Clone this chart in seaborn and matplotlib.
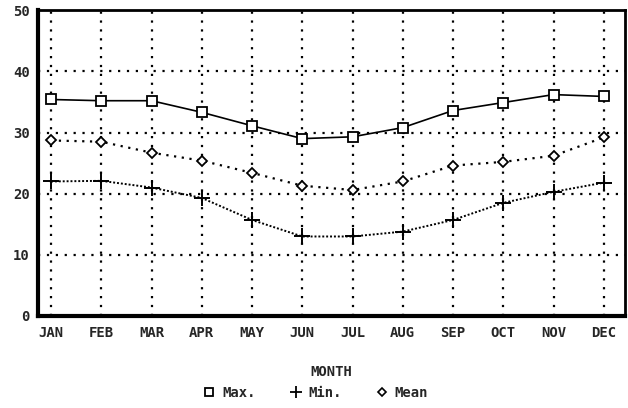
import seaborn as sns
import numpy as np
import matplotlib.pyplot as plt
from matplotlib.lines import Line2D

months = ["JAN", "FEB", "MAR", "APR", "MAY", "JUN", "JUL", "AUG", "SEP", "OCT", "NOV", "DEC"]
max_temp = [35.4, 35.2, 35.2, 33.3, 31.1, 29.0, 29.3, 30.8, 33.6, 34.9, 36.2, 35.9]
min_temp = [22.0, 22.1, 21.0, 19.3, 15.7, 13.0, 13.0, 13.8, 15.7, 18.5, 20.3, 21.8]
mean_temp = [28.7, 28.5, 26.7, 25.4, 23.4, 21.3, 20.6, 22.0, 24.6, 25.2, 26.2, 29.2]
y_ticks = [0, 10, 20, 30, 40, 50]

sns.set_style("white")
plt.rcParams['font.family'] = ['DejaVu Sans Mono']

fig = plt.figure(figsize=(6.28, 4.08), dpi=100)
ax = fig.add_axes([0.0605, 0.2255, 0.9345, 0.7495])

x = np.arange(len(months))
sns.lineplot(x=x, y=max_temp, ax=ax, color="black", lw=1.2, marker="s", markersize=7,
             markerfacecolor="white", markeredgecolor="black", markeredgewidth=1.3)
sns.lineplot(x=x, y=min_temp, ax=ax, color="black", lw=1.4, linestyle=(0, (1, 1)), marker="+",
             markersize=11, markeredgecolor="black", markeredgewidth=1.4)
sns.lineplot(x=x, y=mean_temp, ax=ax, color="black", lw=1.6, linestyle=(0, (1, 2.5)), marker="D",
             markersize=5.5, markerfacecolor="white", markeredgecolor="black", markeredgewidth=1.3)

ax.set_xlim(-0.26, 11.42)
ax.set_ylim(0, 50)
ax.set_xticks(x)
ax.set_xticklabels(months, fontsize=10, fontweight="bold")
ax.set_yticks(y_ticks)
ax.set_yticklabels([str(v) for v in y_ticks], fontsize=10, fontweight="bold")
ax.tick_params(axis="both", direction="out", length=5, width=1.2, color="black", pad=2)
ax.tick_params(axis="y", length=4)

for v in y_ticks[1:-1]:
    ax.axhline(v, color="black", lw=1.6, linestyle=(0, (1, 3)), zorder=0)
for xi in x:
    ax.axvline(xi, color="black", lw=1.6, linestyle=(0, (1, 3)), zorder=0)

for side in ["left", "bottom", "top", "right"]:
    ax.spines[side].set_visible(True)
    ax.spines[side].set_color("black")
ax.spines["left"].set_linewidth(3)
ax.spines["bottom"].set_linewidth(3)
ax.spines["top"].set_linewidth(2)
ax.spines["right"].set_linewidth(2)

ax.set_xlabel("MONTH", fontsize=10, fontweight="bold", labelpad=18)
ax.set_ylabel("")

handles = [
    Line2D([], [], linestyle="none", marker="s", markersize=6, markerfacecolor="white",
           markeredgecolor="black", markeredgewidth=1.3, label="Max."),
    Line2D([], [], linestyle="none", marker="+", markersize=8, color="black",
           markeredgewidth=1.3, label="Min."),
    Line2D([], [], linestyle="none", marker="D", markersize=4.5, markerfacecolor="white",
           markeredgecolor="black", markeredgewidth=1.2, label="Mean"),
]
fig.legend(handles=handles, loc="center", bbox_to_anchor=(0.502, 0.037), ncol=3, frameon=False,
           prop={"size": 10, "weight": "bold", "family": "DejaVu Sans Mono"},
           handletextpad=0.4, columnspacing=2.4, handlelength=1.0)

fig.savefig("out.png", dpi=100)
